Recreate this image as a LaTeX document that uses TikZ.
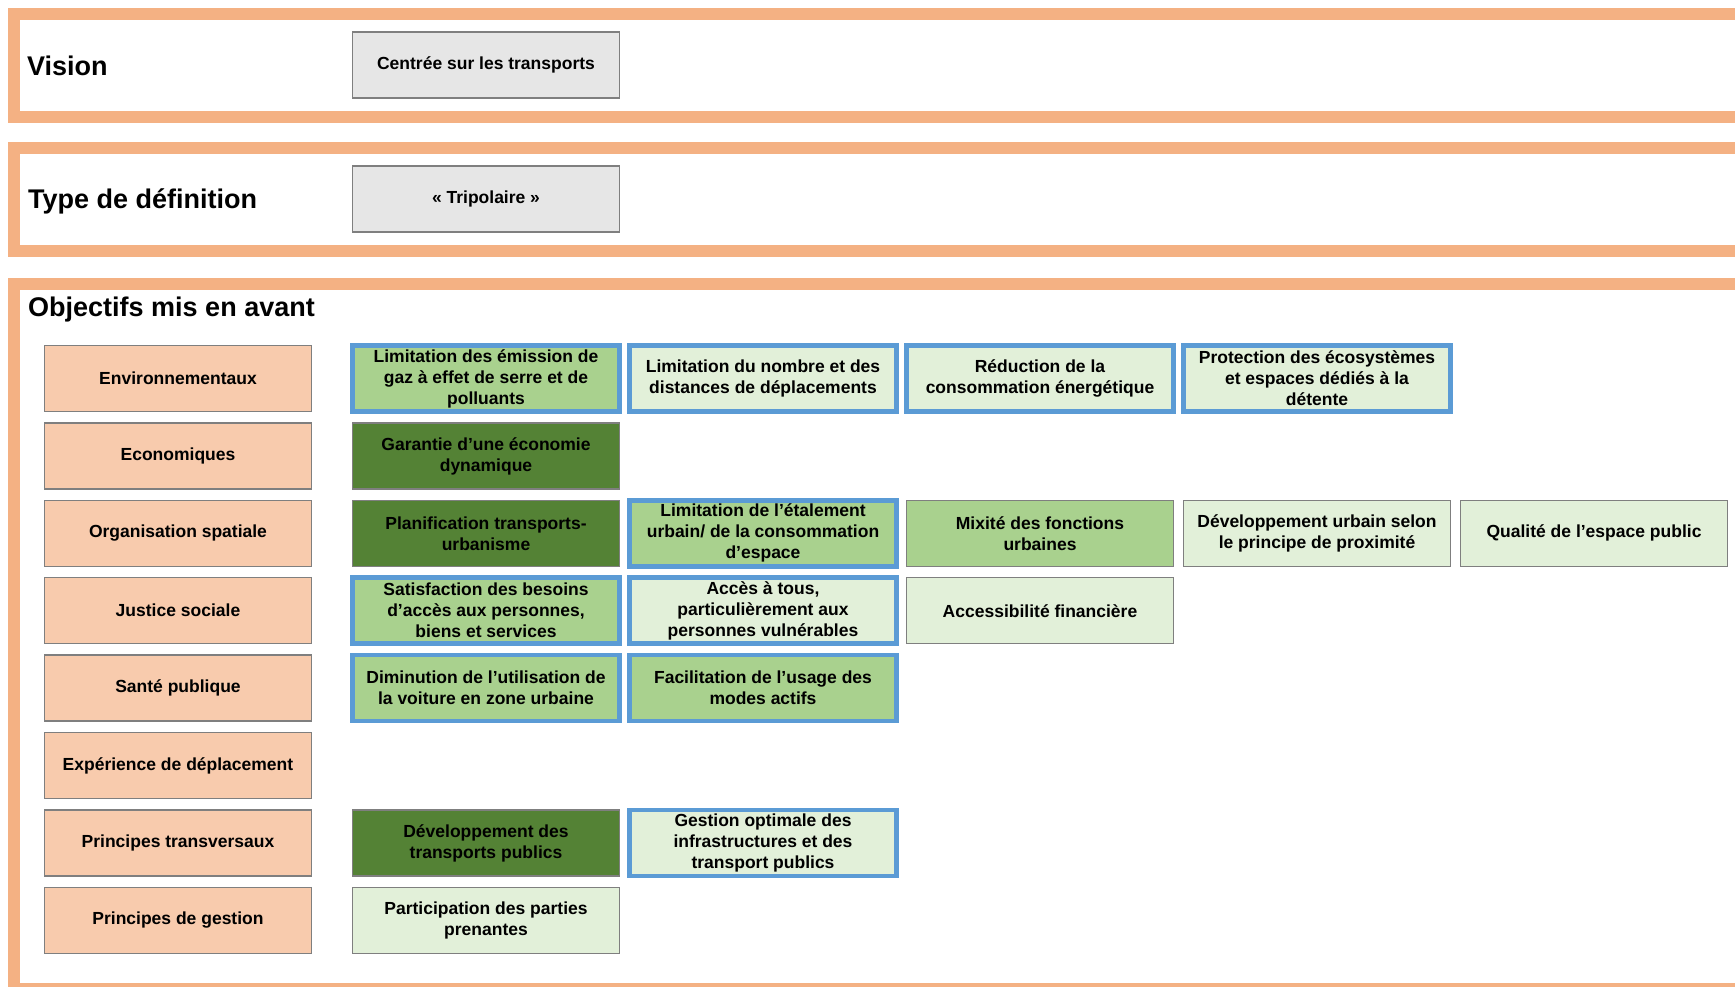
\documentclass[tikz,border=0pt]{standalone}
\usepackage{fontspec}
\setmainfont{Liberation Sans}
\definecolor{frameorange}{HTML}{F4B183}
\definecolor{peach}{HTML}{F8CBAD}
\definecolor{boxgrey}{HTML}{E6E6E6}
\definecolor{edgegrey}{HTML}{7F7F7F}
\definecolor{lightgreen}{HTML}{A9D18E}
\definecolor{darkgreen}{HTML}{548235}
\definecolor{palegreen}{HTML}{E2F0D9}
\definecolor{blueedge}{HTML}{5B9BD5}
\begin{document}
\begin{tikzpicture}[x=1pt, y=-1pt, node distance=277pt,
  every node/.style={font=\bfseries\fontsize{17.5}{21}\selectfont, align=center},
  cell/.style={rectangle, draw=edgegrey, line width=1.5pt, minimum width=267pt, minimum height=66pt, inner sep=0pt},
  catbox/.style={cell, fill=peach},
  greybox/.style={cell, fill=boxgrey},
  palebox/.style={cell, fill=palegreen},
  lightbox/.style={cell, fill=lightgreen},
  darkbox/.style={cell, fill=darkgreen},
  keybox/.style={draw=blueedge, line width=4.5pt},
  heading/.style={anchor=base west, inner sep=0pt, font=\bfseries\fontsize{27}{32}\selectfont}]
  \useasboundingbox (0,0) rectangle (1735,987);

  \draw[frameorange, line width=12pt] (14,14) rectangle (1760,117);
  \draw[frameorange, line width=12pt] (14,148) rectangle (1760,251);
  \draw[frameorange, line width=12pt] (14,284) rectangle (1760,989);

  \node[heading] (Vis) at (27,76) {Vision};
  \node[heading] (Typ) at (28,208.5) {Type de définition};
  \node[heading] (Obj) at (28,316) {Objectifs mis en avant};

  \node[greybox] (Cen) at (486,65) {Centrée sur les transports};
  \node[greybox, below of=Cen, node distance=134pt] (Tri) {« Tripolaire »};

  \node[catbox] (Env) at (178,378.5) {Environnementaux};
  \node[catbox, below of=Env, node distance=77.4pt] (Eco) {Economiques};
  \node[catbox, below of=Eco, node distance=77.4pt] (Org) {Organisation spatiale};
  \node[catbox, below of=Org, node distance=77.4pt] (Jus) {Justice sociale};
  \node[catbox, below of=Jus, node distance=77.4pt] (San) {Santé publique};
  \node[catbox, below of=San, node distance=77.4pt] (Exp) {Expérience de déplacement};
  \node[catbox, below of=Exp, node distance=77.4pt] (Tra) {Principes transversaux};
  \node[catbox, below of=Tra, node distance=77.4pt] (Ges) {Principes de gestion};

  \node[lightbox, keybox, right of=Env, node distance=308pt] (Env1) {Limitation des émission de\\gaz à effet de serre et de\\polluants};
  \node[palebox, keybox, right of=Env1] (Env2) {Limitation du nombre et des\\distances de déplacements};
  \node[palebox, keybox, right of=Env2] (Env3) {Réduction de la\\consommation énergétique};
  \node[palebox, keybox, right of=Env3] (Env4) {Protection des écosystèmes\\et espaces dédiés à la\\détente};

  \node[darkbox, right of=Eco, node distance=308pt] (Eco1) {Garantie d’une économie\\dynamique};

  \node[darkbox, right of=Org, node distance=308pt] (Org1) {Planification transports-\\urbanisme};
  \node[lightbox, keybox, right of=Org1] (Org2) {Limitation de l’étalement\\urbain/ de la consommation\\d’espace};
  \node[lightbox, right of=Org2] (Org3) {Mixité des fonctions\\urbaines};
  \node[palebox, right of=Org3] (Org4) {Développement urbain selon\\le principe de proximité};
  \node[palebox, right of=Org4] (Org5) {Qualité de l’espace public};

  \node[lightbox, keybox, right of=Jus, node distance=308pt] (Jus1) {Satisfaction des besoins\\d’accès aux personnes,\\biens et services};
  \node[palebox, keybox, right of=Jus1] (Jus2) {Accès à tous,\\particulièrement aux\\personnes vulnérables};
  \node[palebox, right of=Jus2] (Jus3) {Accessibilité financière};

  \node[lightbox, keybox, right of=San, node distance=308pt] (San1) {Diminution de l’utilisation de\\la voiture en zone urbaine};
  \node[lightbox, keybox, right of=San1] (San2) {Facilitation de l’usage des\\modes actifs};

  \node[darkbox, right of=Tra, node distance=308pt] (Tra1) {Développement des\\transports publics};
  \node[palebox, keybox, right of=Tra1] (Tra2) {Gestion optimale des\\infrastructures et des\\transport publics};

  \node[palebox, right of=Ges, node distance=308pt] (Ges1) {Participation des parties\\prenantes};
\end{tikzpicture}
\end{document}
